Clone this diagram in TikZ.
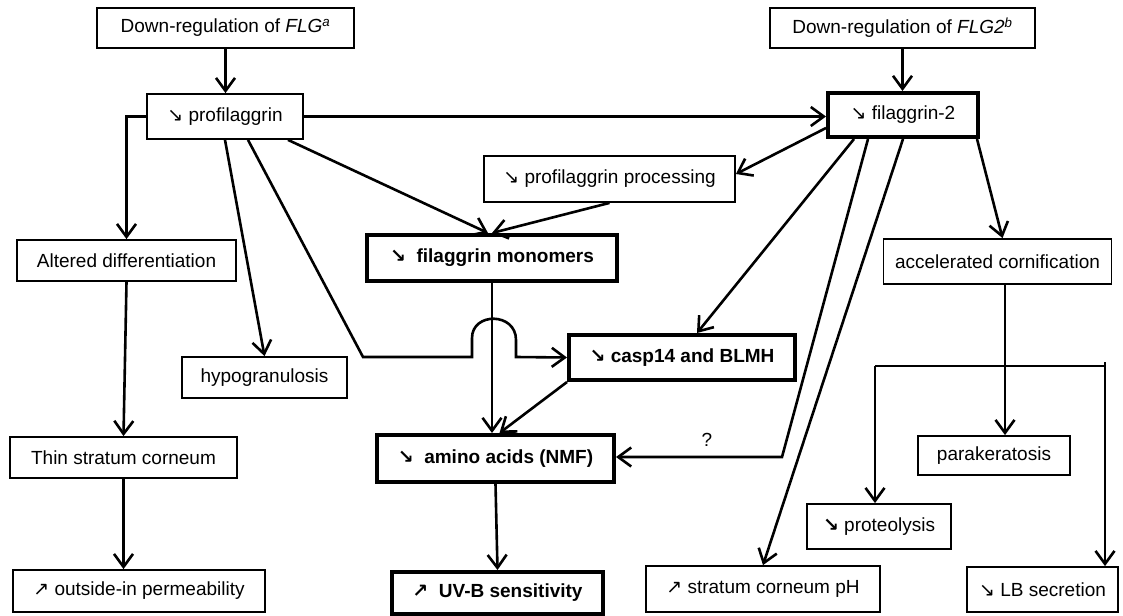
\documentclass[tikz,border=0pt]{standalone}
\usepackage{fontspec}
\setmainfont{Liberation Sans}
\newfontfamily\arrfont{DejaVu Sans}
\usetikzlibrary{arrows.meta,calc}
\newcommand\arrdown{{\arrfont\fontsize{19}{22}\selectfont ↘}}
\newcommand\arrup{{\arrfont\fontsize{19}{22}\selectfont ↗}}
\newcommand\arrdownb{{\arrfont\bfseries\fontsize{19}{22}\selectfont ↘}}
\begin{document}
\begin{tikzpicture}[x=1pt,y=-1pt,
  box/.style={draw, line width=1.8pt, inner sep=0pt, align=center,
    font=\fontsize{19}{22}\selectfont},
  boxb/.style={box, line width=4pt},
  conn/.style={line width=2.6pt, -{Straight Barb[length=13pt,width=19pt]}},
  plain/.style={line width=2.6pt}]
\useasboundingbox (0,0) rectangle (1123,615);
\fill[white] (0,0) rectangle (1123,615);

% nodes
\node[box, minimum width=257, minimum height=40] (flg) at (225.5,28) {Down-regulation of \textit{FLG}\textsuperscript{\textit{a}}};
\node[box, minimum width=265, minimum height=40] (flgb) at (902.5,28) {Down-regulation of \textit{FLG2}\textsuperscript{\textit{b}}};
\node[box, minimum width=156, minimum height=45] (pro) at (225,116.5) {\arrdown\ profilaggrin};
\node[boxb, minimum width=150, minimum height=44] (fil2) at (903,115) {\arrdown\ filaggrin-2};
\node[box, minimum width=251, minimum height=46] (proc) at (609.5,179) {\arrdown\ profilaggrin processing};
\node[boxb, minimum width=250, minimum height=46, font=\fontsize{19}{22}\selectfont\bfseries] (mono) at (492,258) {\arrdown\ \ filaggrin monomers};
\node[box, minimum width=219, minimum height=41] (alt) at (126.5,260.5) {Altered differentiation};
\node[box, minimum width=228, minimum height=45] (acc) at (997.5,261.5) {accelerated cornification};
\node[box, minimum width=165, minimum height=41] (hypo) at (264.5,377.5) {hypogranulosis};
\node[boxb, minimum width=226, minimum height=45, font=\fontsize{19}{22}\selectfont\bfseries] (casp) at (682,357.5) {\arrdown\ casp14 and BLMH};
\node[box, minimum width=227, minimum height=41] (thin) at (123.5,457.5) {Thin stratum corneum};
\node[boxb, minimum width=237, minimum height=47, font=\fontsize{19}{22}\selectfont\bfseries] (amino) at (495.5,458.5) {\arrdown\ \ amino acids (NMF)};
\node[box, minimum width=152, minimum height=39] (para) at (994,455.5) {parakeratosis};
\node[box, minimum width=144, minimum height=45] (prot) at (879,526.5) {\arrdownb\ proteolysis};
\node[box, minimum width=252, minimum height=42] (outp) at (139,591) {\arrup\ outside-in permeability};
\node[boxb, minimum width=211, minimum height=42, font=\fontsize{19}{22}\selectfont\bfseries] (uvb) at (497.5,593) {\arrup\ \ UV-B sensitivity};
\node[box, minimum width=234, minimum height=46] (ph) at (763,589) {\arrup\ stratum corneum pH};
\node[box, minimum width=151, minimum height=45] (lb) at (1042.5,589.5) {\arrdown\ LB secretion};

% helper coordinates
\coordinate (b1) at (363,357);
\coordinate (b2) at (472,357);
\coordinate (b3) at (472,338);
\coordinate (b4) at (516,340);
\coordinate (b5) at (516,357);
\coordinate (q) at (782,457);
\coordinate (j) at (1005,366);
\coordinate (jl) at (875,366);
\coordinate (jr) at (1105,366);

% connectors
\draw[conn] (flg.south) -- (flg.south |- pro.north);
\draw[conn] (flgb.south) -- (flgb.south |- fil2.north);
\draw[conn] (pro.east) -- (pro.east -| fil2.west);
\draw[conn] (pro.west) -| (alt.north);
\draw[conn] ([xshift=63]pro.south) -- ([xshift=-4]mono.north);
\draw[conn] (pro.south) -- (hypo.north);
\draw[conn] ([xshift=23]pro.south) -- (b1) -- (b2) -- (b3)
  .. controls (472,312) and (516,312) .. (b4) -- (b5) -- (casp.west);
\draw[conn] ([yshift=-13]fil2.west) -- ([yshift=5]proc.east);
\draw[conn] (proc.south) -- (mono.north);
\draw[conn] (mono.south) -- (mono.south |- amino.north);
\draw[conn] (casp.south west) -- ([xshift=4]amino.north);
\draw[conn] ([xshift=-49]fil2.south) -- ([xshift=15]casp.north);
\draw[conn] ([xshift=-35]fil2.south) -- (q) -- (q -| amino.east);
\node[font=\fontsize{19}{22}\selectfont] (qm) at (707,440) {?};
\draw[conn] (fil2.south) -- (ph.north);
\draw[conn] ([xshift=-3]fil2.south east) -- ([xshift=5]acc.north);
\draw[conn] (j |- acc.south) -- (j |- para.north);
\draw[plain] (jl) -- (jr);
\draw[conn] (jl) -- (jl |- prot.north);
\draw[conn] ([yshift=4]jr) -- (jr |- lb.north);
\draw[conn] (alt.south) -- (thin.north);
\draw[conn] (thin.south) -- (thin.south |- outp.north);
\draw[conn] (amino.south) -- (uvb.north);
\end{tikzpicture}
\end{document}
